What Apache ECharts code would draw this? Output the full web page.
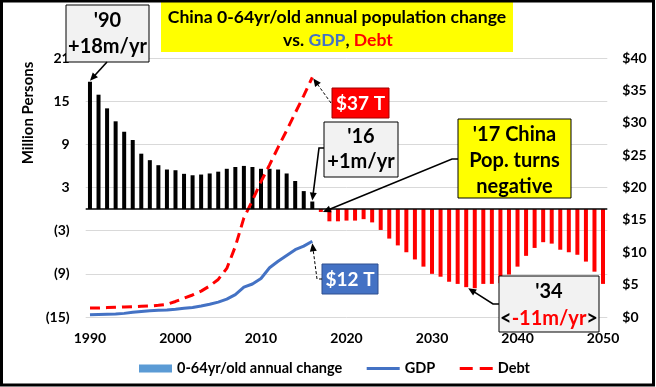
<!DOCTYPE html>
<html><head><meta charset="utf-8">
<script src="https://cdn.jsdelivr.net/npm/echarts@6/dist/echarts.min.js"></script>
<style>html,body{margin:0;padding:0;background:#fff}#c{width:656px;height:387px}</style>
</head><body><div id="c"></div>
<script>
const years = ['1990','1991','1992','1993','1994','1995','1996','1997','1998','1999',
  '2000','2001','2002','2003','2004','2005','2006','2007','2008','2009',
  '2010','2011','2012','2013','2014','2015','2016','2017','2018','2019',
  '2020','2021','2022','2023','2024','2025','2026','2027','2028','2029',
  '2030','2031','2032','2033','2034','2035','2036','2037','2038','2039',
  '2040','2041','2042','2043','2044','2045','2046','2047','2048','2049','2050'];
// million persons, annual change of 0-64yr/old population
const popChange = [17.7,15.9,14.0,12.2,10.75,9.6,7.7,6.8,6.1,5.5,
  5.4,4.9,4.7,4.8,4.95,5.2,5.6,5.85,6.0,5.85,
  5.6,5.6,5.5,4.95,3.9,2.5,1.05,-0.4,-1.7,-1.7,
  -1.6,-1.6,-1.4,-1.85,-2.9,-4.1,-5.05,-6.0,-7.0,-8.0,
  -9.0,-9.4,-10.1,-10.4,-10.85,-11.0,-10.4,-10.4,-10.3,-9.1,
  -8.0,-6.5,-5.4,-4.6,-4.8,-5.65,-6.0,-6.35,-7.3,-8.7,-10.4];
// $ trillions
const gdp = [0.33,0.38,0.42,0.46,0.56,0.75,0.86,0.96,1.03,1.09,
  1.2,1.34,1.47,1.7,1.96,2.3,2.75,3.45,4.6,5.1,
  5.95,7.6,8.6,9.5,10.4,10.95,11.7];
const debt = [1.4,1.4,1.45,1.5,1.55,1.6,1.65,1.7,1.8,1.95,
  2.4,2.9,3.4,4.0,4.8,5.8,7.5,10.9,15.3,18.0,
  20.9,23.5,26.2,28.8,31.5,34.2,37.0];
const leftTicks = {min:-15, max:21, step:6};
const rightTicks = {min:0, max:40, step:5};

const F = 'Lato, "Open Sans", sans-serif';
const chart = echarts.init(document.getElementById('c'));
const barData = popChange.map(v => ({value: v, itemStyle: {color: v >= 0 ? '#000000' : '#ff0000'}}));
chart.setOption({
  animation: false,
  textStyle: {fontFamily: F},
  grid: {left: 85.7, right: 48.7, top: 58, bottom: 70},
  xAxis: {type: 'category', data: years, boundaryGap: true,
    axisLine: {show: false}, axisTick: {show: false},
    axisLabel: {interval: 9, color: '#000', fontWeight: 'bold', fontSize: 14, margin: 14, fontFamily: F}},
  yAxis: [
    {type: 'value', min: leftTicks.min, max: leftTicks.max, interval: leftTicks.step,
     axisLine: {show: false}, axisTick: {show: false},
     splitLine: {lineStyle: {color: '#d9d9d9', width: 1}},
     axisLabel: {formatter: v => v < 0 ? '(' + (-v) + ')' : String(v), color: '#000', fontWeight: 'bold', fontSize: 14, margin: 16, fontFamily: F}},
    {type: 'value', min: rightTicks.min, max: rightTicks.max, interval: rightTicks.step, position: 'right',
     splitLine: {show: false}, axisLine: {show: false}, axisTick: {show: false},
     axisLabel: {formatter: '${value}', color: '#000', fontWeight: 'bold', fontSize: 14, margin: 15, fontFamily: F}}
  ],
  legend: {
    left: 134, top: 356, itemWidth: 33, itemHeight: 8, itemGap: 23,
    textStyle: {color: '#000', fontWeight: 'bold', fontSize: 14.5, fontFamily: F},
    data: [{name: '0-64yr/old annual change', icon: 'rect'},
           {name: 'GDP', itemStyle: {opacity: 0}, lineStyle: {width: 3}},
           {name: 'Debt', itemStyle: {opacity: 0}, lineStyle: {width: 3, type: [13, 7]}}]
  },
  series: [
    {name: '0-64yr/old annual change', type: 'bar', data: barData, barWidth: 4,
     itemStyle: {color: '#5b9bd5'},
     markLine: {silent: true, symbol: 'none', label: {show: false},
       lineStyle: {color: '#000', width: 1.5, type: 'solid'}, data: [{yAxis: 0}]}},
    {name: 'GDP', type: 'line', yAxisIndex: 1, data: gdp, symbol: 'none', showSymbol: false,
     lineStyle: {color: '#4472c4', width: 3}, itemStyle: {color: '#4472c4'}, z: 3},
    {name: 'Debt', type: 'line', yAxisIndex: 1, data: debt, symbol: 'none', showSymbol: false,
     lineStyle: {color: '#ff0000', width: 3, type: [10, 6]}, itemStyle: {color: '#ff0000'}, z: 4}
  ]
});

// ---- annotations ----
const P = (si, cat, v) => chart.convertToPixel({seriesIndex: si}, [cat, v]);
function head(x1, y1, x2, y2) {
  const a = Math.atan2(y2 - y1, x2 - x1), L = 8, W = 3.5;
  const bx = x2 - L * Math.cos(a), by = y2 - L * Math.sin(a);
  return {type: 'polygon', z: 100, shape: {points: [[x2, y2],
    [bx + W * Math.sin(a), by - W * Math.cos(a)], [bx - W * Math.sin(a), by + W * Math.cos(a)]]},
    style: {fill: '#000'}};
}
function conn(pts, dashed) {
  const n = pts.length, t = pts[n - 1], s = pts[n - 2];
  const a = Math.atan2(t[1] - s[1], t[0] - s[0]);
  const line = pts.slice(0, n - 1).concat([[t[0] - 6 * Math.cos(a), t[1] - 6 * Math.sin(a)]]);
  return [{type: 'polyline', z: 100, shape: {points: line},
    style: {stroke: '#000', lineWidth: dashed ? 1 : 1.6, fill: null, lineDash: dashed ? [3, 2] : null}},
    head(s[0], s[1], t[0], t[1])];
}
function box(x, y, w, h, fill, stroke) {
  return {type: 'rect', z: 100, shape: {x: x, y: y, width: w, height: h}, style: {fill: fill, stroke: stroke, lineWidth: 1}};
}
function txt(x, y, s, size, color, extra) {
  return Object.assign({type: 'text', z: 101, x: x, y: y,
    style: {text: s, fontSize: size, fontWeight: 'bold', fontFamily: F, fill: color, align: 'center', verticalAlign: 'middle'}}, extra || {});
}

const b90 = P(0, '1990', popChange[0]);
const b16 = P(0, '2016', popChange[26]);
const b17 = P(0, '2017', popChange[27]);
const b34 = P(0, '2034', popChange[44]);
const d16 = P(2, '2016', debt[26]);
const g16 = P(1, '2016', gdp[26]);

const els = [
  {type: 'rect', z: 120, shape: {x: 1.5, y: 1, width: 652, height: 384}, style: {fill: null, stroke: '#000', lineWidth: 3}},
  box(161, 0, 352, 52, '#ffff00', null),
  txt(337, 17, 'China 0-64yr/old annual population change', 17.6, '#000'),
  {type: 'text', z: 101, x: 338, y: 40, style: {text: '{k|vs. }{b|GDP}{k|, }{r|Debt}', align: 'center', verticalAlign: 'middle',
    rich: {k: {fontSize: 17.6, fontWeight: 'bold', fontFamily: F, fill: '#000'},
           b: {fontSize: 17.6, fontWeight: 'bold', fontFamily: F, fill: '#4472c4'},
           r: {fontSize: 17.6, fontWeight: 'bold', fontFamily: F, fill: '#ff0000'}}}},
  txt(28, 113, 'Million Persons', 15, '#000', {rotation: Math.PI / 2}),
  // '90
  box(66, 5, 83, 57, '#f2f2f2', '#000'),
  txt(107.5, 21, "'90", 20, '#000'),
  txt(107.5, 47, '+18m/yr', 20, '#000'),
  ...conn([[107, 62], [b90[0], b90[1] - 1]], false),
  // $37 T
  box(332, 88, 57, 30, '#ff0000', '#a00000'),
  txt(360.5, 103.5, '$37 T', 19, '#fff'),
  ...conn([[331, 103], [d16[0] + 1, d16[1] + 1]], true),
  // '16
  box(324, 122, 74, 55, '#f2f2f2', '#000'),
  txt(361, 137, "'16", 20, '#000'),
  txt(361, 162, '+1m/yr', 20, '#000'),
  ...conn([[324, 148], [319, 148], [b16[0], b16[1] - 1]], false),
  // '17
  box(458, 119, 113, 79, '#ffff00', '#000'),
  txt(514.5, 135, "'17 China", 20, '#000'),
  txt(514.5, 161, 'Pop. turns', 20, '#000'),
  txt(514.5, 187, 'negative', 20, '#000'),
  ...conn([[458, 159], [452, 159], [b17[0] + 2, b17[1]]], false),
  // $12 T
  box(322, 264, 56, 30, '#4472c4', '#2f4f8f'),
  txt(350, 279.5, '$12 T', 19, '#fff'),
  ...conn([[322, 279], [317, 279], [g16[0], g16[1] + 2]], true),
  // '34
  box(499, 276, 100, 56, '#f2f2f2', '#000'),
  txt(549, 292, "'34", 20, '#000'),
  {type: 'text', z: 101, x: 549, y: 319, style: {text: '{k|<}{r|-11m/yr}{k|>}', align: 'center', verticalAlign: 'middle',
    rich: {k: {fontSize: 20, fontWeight: 'bold', fontFamily: F, fill: '#000'},
           r: {fontSize: 20, fontWeight: 'bold', fontFamily: F, fill: '#ff0000'}}}},
  ...conn([[499, 304], [493, 304], [b34[0] + 2, b34[1] + 1]], false)
];
chart.setOption({graphic: {elements: els}});
</script></body></html>
